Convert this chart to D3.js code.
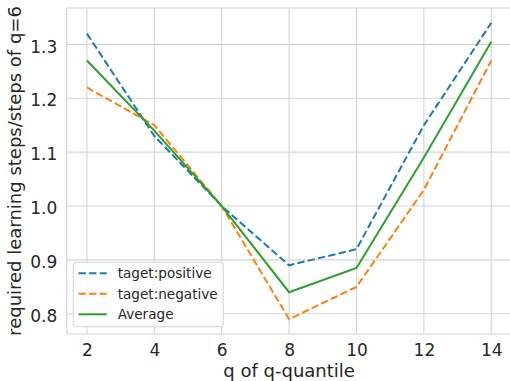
<!DOCTYPE html>
<html>
<head>
<meta charset="utf-8">
<script src="https://cdn.jsdelivr.net/npm/d3@7"></script>
<style>
  body { margin: 0; background: #fff; }
  text { font-family: "DejaVu Sans", sans-serif; fill: #262626; }
</style>
</head>
<body>
<svg id="chart" width="510" height="381"></svg>
<script>
// data
var qValues = [2, 4, 6, 8, 10, 12, 14]
var positive = [1.32, 1.13, 1.0, 0.89, 0.92, 1.15, 1.34]
var negative = [1.22, 1.15, 1.0, 0.79, 0.85, 1.03, 1.27]
var average = [1.27, 1.14, 1.0, 0.84, 0.885, 1.09, 1.305]
var xTicks = [2, 4, 6, 8, 10, 12, 14]
var yTicks = [0.8, 0.9, 1.0, 1.1, 1.2, 1.3]

var series = [
  { name: 'taget:positive', values: positive, color: '#1f77b4', dash: '7.4,3.2' },
  { name: 'taget:negative', values: negative, color: '#ff7f0e', dash: '7.4,3.2' },
  { name: 'Average', values: average, color: '#2ca02c', dash: null }
]

var svg = d3.select('#chart')
  , plotLeft = 66.7
  , plotRight = 511.5
  , plotTop = 8
  , plotBottom = 334

var x = d3.scaleLinear().domain([1.4, 14.6]).range([plotLeft, plotRight])
var y = d3.scaleLinear().domain([0.7625, 1.3675]).range([plotBottom, plotTop])

//grid
svg.append('g')
  .selectAll('line')
  .data(xTicks)
  .enter()
  .append('line')
  .attr('x1', function (d) { return x(d) })
  .attr('x2', function (d) { return x(d) })
  .attr('y1', plotTop)
  .attr('y2', plotBottom)
  .attr('stroke', '#d4d4d4')
  .attr('stroke-width', 1.1)

svg.append('g')
  .selectAll('line')
  .data(yTicks)
  .enter()
  .append('line')
  .attr('x1', plotLeft)
  .attr('x2', plotRight)
  .attr('y1', function (d) { return y(d) })
  .attr('y2', function (d) { return y(d) })
  .attr('stroke', '#d4d4d4')
  .attr('stroke-width', 1.1)

//frame
svg.append('rect')
  .attr('x', plotLeft)
  .attr('y', plotTop)
  .attr('width', plotRight - plotLeft)
  .attr('height', plotBottom - plotTop)
  .attr('fill', 'none')
  .attr('stroke', '#d4d4d4')
  .attr('stroke-width', 1.1)

//axes
var xAxis = svg.append('g')
  .attr('transform', 'translate(0,' + plotBottom + ')')
  .call(d3.axisBottom(x).tickValues(xTicks).tickSize(0).tickPadding(9.6).tickFormat(d3.format('d')))
xAxis.select('.domain').remove()
xAxis.selectAll('text')
  .style('font-size', '17px')
  .attr('dy', '0.71em')

var yAxis = svg.append('g')
  .attr('transform', 'translate(' + plotLeft + ',0)')
  .call(d3.axisLeft(y).tickValues(yTicks).tickSize(0).tickPadding(9.4).tickFormat(d3.format('.1f')))
yAxis.select('.domain').remove()
yAxis.selectAll('text')
  .style('font-size', '17px')
  .attr('dy', '0.45em')

svg.append('text')
  .attr('x', (plotLeft + plotRight) / 2)
  .attr('y', 376.5)
  .attr('text-anchor', 'middle')
  .style('font-size', '18px')
  .text('q of q-quantile')

svg.append('text')
  .attr('transform', 'translate(20.8,' + ((plotTop + plotBottom) / 2) + ') rotate(-90)')
  .attr('text-anchor', 'middle')
  .style('font-size', '18px')
  .text('required learning steps/steps of q=6')

//lines
var line = d3.line()
  .x(function (d, i) { return x(qValues[i]) })
  .y(function (d) { return y(d) })

svg.append('g')
  .selectAll('path')
  .data(series)
  .enter()
  .append('path')
  .attr('d', function (d) { return line(d.values) })
  .attr('fill', 'none')
  .attr('stroke', function (d) { return d.color })
  .attr('stroke-width', 2)
  .attr('stroke-dasharray', function (d) { return d.dash })

//legend
var legend = svg.append('g')
legend.append('rect')
  .attr('x', 73.3)
  .attr('y', 262.3)
  .attr('width', 150)
  .attr('height', 64.4)
  .attr('rx', 3)
  .attr('fill', 'rgba(255,255,255,0.8)')
  .attr('stroke', '#d4d4d4')
  .attr('stroke-width', 1)

var rows = legend.selectAll('.legendRow')
  .data(series)
  .enter()
  .append('g')
  .attr('class', 'legendRow')
  .attr('transform', function (d, i) { return 'translate(0,' + (273.3 + i * 20.5) + ')' })

rows.append('line')
  .attr('x1', 78.5)
  .attr('x2', 106.7)
  .attr('y1', 0)
  .attr('y2', 0)
  .attr('stroke', function (d) { return d.color })
  .attr('stroke-width', 2)
  .attr('stroke-dasharray', function (d) { return d.dash })

rows.append('text')
  .attr('x', 117.7)
  .attr('dy', '0.35em')
  .style('font-size', '13.6px')
  .text(function (d) { return d.name })
</script>
</body>
</html>
